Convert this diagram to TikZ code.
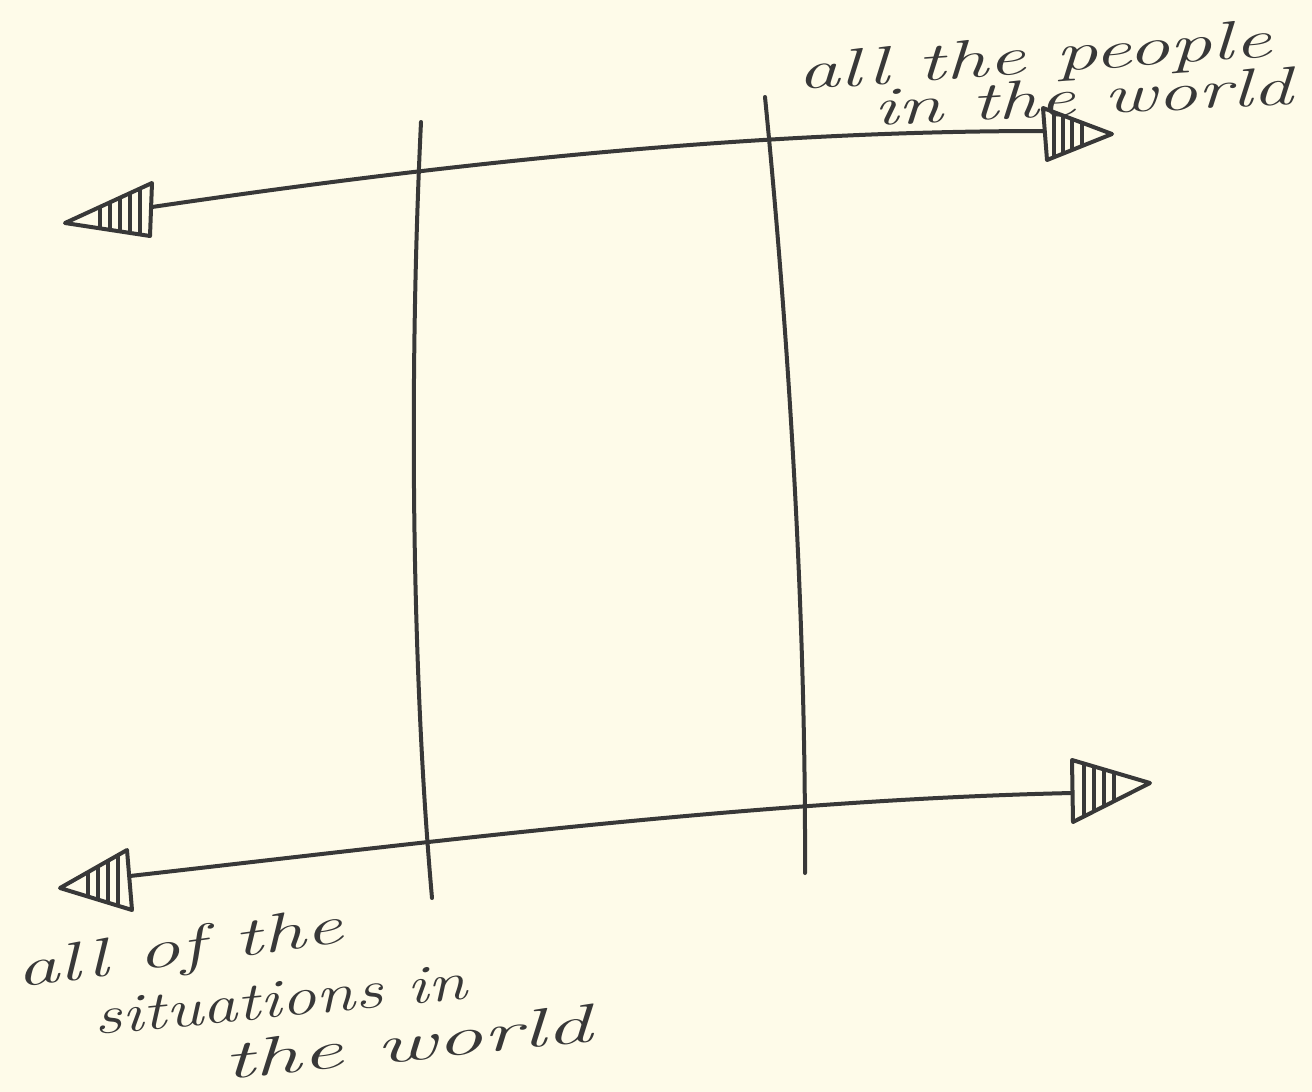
\documentclass[tikz,border=0pt]{standalone}
\usepackage{fontspec}
\definecolor{paper}{HTML}{FEFBE9}
\definecolor{ink}{HTML}{383838}
\newcommand{\handtext}[2]{\resizebox{#1}{\height}{\addfontfeatures{LetterSpace=8}#2}}
\begin{document}
\begin{tikzpicture}[x=1pt,y=-1pt,
  pen/.style={draw=ink,line width=4pt,line cap=round,line join=round},
  hatch/.style={draw=ink,line width=3.2pt,line cap=round},
  hand/.style={text=ink,font=\fontsize{54}{54}\selectfont\itshape,inner sep=0pt,anchor=base west}]
\fill[paper] (0,0) rectangle (1312,1092);
\useasboundingbox (0,0) rectangle (1312,1092);

% named points
\coordinate (tlb) at (152,207);
\coordinate (trb) at (1044,131);
\coordinate (blb) at (130,876);
\coordinate (brb) at (1072,793);
\coordinate (v1t) at (421,122);
\coordinate (v1b) at (432,898);
\coordinate (v2t) at (765,97);
\coordinate (v2b) at (805,873);

% horizontal axes
\draw[pen] (tlb) .. controls (450,163) and (750,131) .. (trb);
\draw[pen] (blb) .. controls (430,842) and (760,800) .. (brb);
% vertical lines
\draw[pen] (v1t) .. controls (410,350) and (410,650) .. (v1b);
\draw[pen] (v2t) .. controls (787,320) and (806,600) .. (v2b);

% arrowheads (hatched triangles)
\coordinate (a1) at (65,223); \coordinate (a2) at (152,183); \coordinate (a3) at (150,236);
\begin{scope}\clip (a1) -- (a2) -- (a3) -- cycle;
\foreach \x in {100,110,120,130,140} \draw[hatch] (\x,170) -- (\x,250);
\end{scope}
\draw[pen] (a1) -- (a2) -- (a3) -- cycle;

\coordinate (b1) at (1043,108); \coordinate (b2) at (1112,134); \coordinate (b3) at (1047,160);
\begin{scope}\clip (b1) -- (b2) -- (b3) -- cycle;
\foreach \x in {1054,1063,1072,1082} \draw[hatch] (\x,100) -- (\x,170);
\end{scope}
\draw[pen] (b1) -- (b2) -- (b3) -- cycle;

\coordinate (c1) at (60,888); \coordinate (c2) at (127,850); \coordinate (c3) at (132,910);
\begin{scope}\clip (c1) -- (c2) -- (c3) -- cycle;
\foreach \x in {88,98,108,118} \draw[hatch] (\x,840) -- (\x,920);
\end{scope}
\draw[pen] (c1) -- (c2) -- (c3) -- cycle;

\coordinate (d1) at (1072,760); \coordinate (d2) at (1150,783); \coordinate (d3) at (1073,822);
\begin{scope}\clip (d1) -- (d2) -- (d3) -- cycle;
\foreach \x in {1084,1094,1104,1114} \draw[hatch] (\x,750) -- (\x,830);
\end{scope}
\draw[pen] (d1) -- (d2) -- (d3) -- cycle;

% labels
\node[hand,rotate=4] (p1) at (798,90) {\handtext{475pt}{all the people}};
\node[hand,rotate=3] (p2) at (874,126) {\handtext{420pt}{in the world}};
\node[hand,rotate=8] (s1) at (18,988) {\handtext{330pt}{all of the}};
\node[hand,rotate=5.5] (s2) at (95,1035) {\handtext{375pt}{situations in}};
\node[hand,rotate=6] (s3) at (225,1080) {\handtext{370pt}{the world}};
\end{tikzpicture}
\end{document}
